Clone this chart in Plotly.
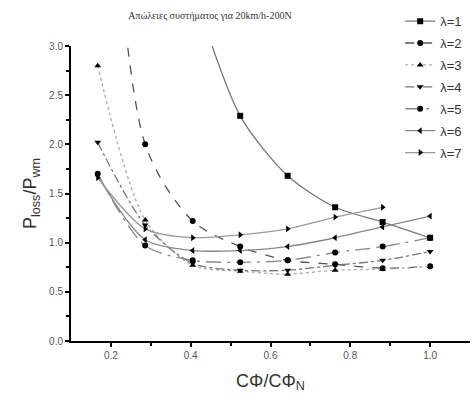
import plotly.graph_objects as go

x_vals = [0.167, 0.286, 0.405, 0.524, 0.643, 0.762, 0.881, 1.0]
lam1 = [None, None, 3.6, 2.29, 1.68, 1.36, 1.21, 1.05]
lam2 = [7.0, 2.00, 1.22, 0.96, 0.82, 0.78, 0.74, 0.76]
lam3 = [2.80, 1.23, 0.77, 0.71, 0.68, 0.72, 0.73, 0.76]
lam4 = [2.02, 1.18, 0.79, 0.72, 0.72, 0.77, 0.82, 0.91]
lam5 = [1.70, 0.97, 0.82, 0.80, 0.82, 0.90, 0.96, 1.05]
lam6 = [1.68, 1.03, 0.92, 0.92, 0.96, 1.05, 1.16, 1.27]
lam7 = [1.66, 1.14, 1.05, 1.08, 1.14, 1.26, 1.36, None]

names = ["λ=1", "λ=2", "λ=3", "λ=4", "λ=5", "λ=6", "λ=7"]
series = [lam1, lam2, lam3, lam4, lam5, lam6, lam7]
symbols = ["square", "circle", "triangle-up", "triangle-down", "circle", "triangle-left", "triangle-right"]
dashes = ["solid", "dash", "dot", "dashdot", "longdashdot", "solid", "solid"]
line_colors = ["#777777", "#555555", "#aaaaaa", "#777777", "#888888", "#888888", "#999999"]

fig = go.Figure()
for i, (n, s, sym, d, lc) in enumerate(zip(names, series, symbols, dashes, line_colors)):
    fig.add_trace(go.Scatter(
        x=x_vals, y=s, name=n, mode="lines+markers", legendgroup=f"g{i}",
        line=dict(color=lc, width=1.3, dash=d, shape="spline", smoothing=0.8),
        marker=dict(symbol=sym, size=6, color="black"),
        connectgaps=False,
    ))

fig.update_layout(
    width=473, height=404,
    margin=dict(l=71, r=3, t=46, b=63, autoexpand=False),
    plot_bgcolor="white", paper_bgcolor="white",
    font=dict(family="Liberation Sans, Arial, sans-serif", color="#333333"),
    title=dict(text="Απώλειες συστήματος για 20km/h-200N",
               font=dict(family="Liberation Serif, serif", size=10, color="#333333"),
               x=210 / 473, xanchor="center", y=1 - 15 / 404, yanchor="middle"),
    showlegend=True,
    legend=dict(x=0.825, y=1.135, xanchor="left", yanchor="top",
                bgcolor="rgba(0,0,0,0)", font=dict(size=13, color="#333333"),
                tracegroupgap=2, itemwidth=30),
    xaxis=dict(range=[0.1, 1.1], tickvals=[0.2, 0.4, 0.6, 0.8, 1.0],
               ticktext=["0.2", "0.4", "0.6", "0.8", "1.0"],
               showgrid=False, zeroline=False, showline=True, linecolor="black", linewidth=2,
               ticks="outside", ticklen=4, tickwidth=1.5, tickcolor="black",
               minor=dict(tickvals=[0.3, 0.5, 0.7, 0.9], ticks="outside", ticklen=3, tickcolor="black"),
               tickfont=dict(size=10, color="#555555"),
               title=dict(text="CΦ/CΦ<sub>N</sub>", font=dict(size=18, color="#333333"), standoff=14)),
    yaxis=dict(range=[0, 3.0], tickvals=[0, 0.5, 1.0, 1.5, 2.0, 2.5, 3.0],
               ticktext=["0.0", "0.5", "1.0", "1.5", "2.0", "2.5", "3.0"],
               showgrid=False, zeroline=False, showline=True, linecolor="black", linewidth=2,
               ticks="outside", ticklen=4, tickwidth=1.5, tickcolor="black",
               minor=dict(tickvals=[0.25, 0.75, 1.25, 1.75, 2.25, 2.75], ticks="outside", ticklen=3, tickcolor="black"),
               tickfont=dict(size=10, color="#555555"),
               title=dict(text="P<sub>loss</sub>/P<sub>wm</sub>", font=dict(size=18, color="#333333"), standoff=8)),
)

fig.write_html("out.html")
